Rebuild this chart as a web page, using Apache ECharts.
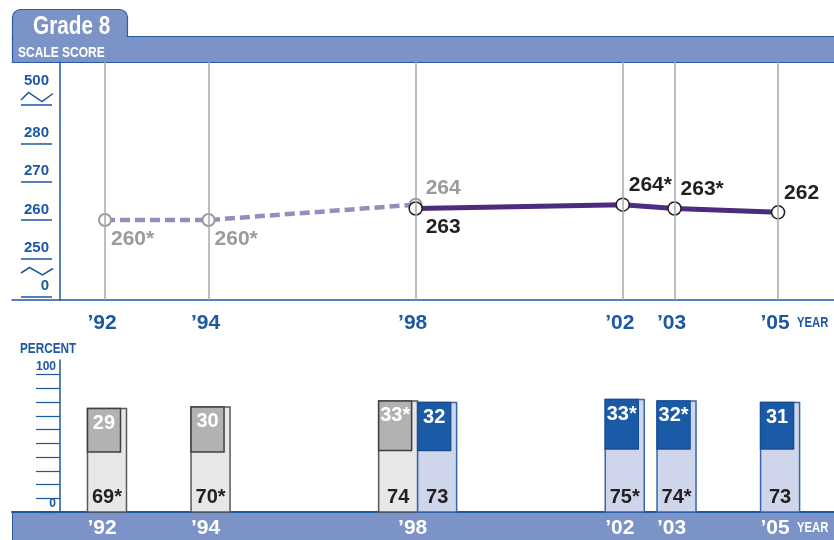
<!DOCTYPE html>
<html>
<head>
<meta charset="utf-8">
<script src="https://cdn.jsdelivr.net/npm/echarts@6/dist/echarts.min.js"></script>
<style>
html, body { margin: 0; padding: 0; background: #fff; }
#main { width: 834px; height: 540px; }
</style>
</head>
<body>
<div id="main"></div>
<script>
var years = [1992, 1994, 1998, 2002, 2003, 2005];
var yearLabels = ["\u201992", "\u201994", "\u201998", "\u201902", "\u201903", "\u201905"];

// accommodations not permitted
var npYears = [1992, 1994, 1998];
var npScore = [260, 260, 264];
var npScoreStar = [true, true, false];
var npBasic = [69, 70, 74];
var npBasicStar = [true, true, false];
var npProf = [29, 30, 33];
var npProfStar = [false, false, true];

// accommodations permitted
var pYears = [1998, 2002, 2003, 2005];
var pScore = [263, 264, 263, 262];
var pScoreStar = [false, true, true, false];
var pBasic = [73, 75, 74, 73];
var pBasicStar = [false, true, true, false];
var pProf = [32, 33, 32, 31];
var pProfStar = [false, true, true, false];

// broken scale axis: positions 240 and 290 stand for 0 and 500
var scoreTicks = [240, 250, 260, 270, 280, 290];
var scoreTickLabels = ['0', '250', '260', '270', '280', '500'];
var pctTicks = [0, 10, 20, 30, 40, 50, 60, 70, 80, 90, 100];
var pctLabelTicks = [0, 100];

var BLUE = '#1d58a4';
var BAND = '#7b93c6';
var SANS = "'Liberation Sans', Arial, sans-serif";

function star(v, s) { return v + (s ? '*' : ''); }

var chart = echarts.init(document.getElementById('main'));

function scoreData(yrs, vals, stars, below) {
    return yrs.map(function (y, i) {
        var down = below(i);
        return {
            value: [y, vals[i]],
            label: {
                formatter: star(vals[i], stars[i]),
                offset: [y === 1998 ? 10 : 6, down ? 19 : (y === 1998 && yrs === npYears ? -16 : -19.5)]
            }
        };
    });
}

function barSeries(yrs, basic, basicStar, prof, profStar, sc, side) {
    return {
        type: 'custom',
        xAxisIndex: 1,
        yAxisIndex: 3,
        clip: false,
        z: 3,
        data: yrs.map(function (y, i) { return [y, basic[i], prof[i]]; }),
        renderItem: function (params, api) {
            var i = params.dataIndex;
            var yr = api.value(0);
            var b = api.value(1);
            var p = api.value(2);
            var base = api.coord([yr, 0]);
            var top = api.coord([yr, b]);
            var pb = api.coord([yr, b - p]);
            var shared = npYears.indexOf(yr) >= 0 && pYears.indexOf(yr) >= 0;
            var w = 39, bw = 33;
            var cx = base[0] + 2 + (shared ? side * w / 2 : 0);
            var x0 = cx - w / 2;
            return {
                type: 'group',
                children: [
                    { type: 'rect', shape: { x: x0, y: top[1], width: w, height: base[1] - top[1] },
                      style: { fill: sc.light, stroke: sc.lightBorder, lineWidth: 1.5 } },
                    { type: 'rect', shape: { x: x0, y: top[1], width: bw, height: pb[1] - top[1] },
                      style: { fill: sc.dark, stroke: sc.darkBorder, lineWidth: 1.5 } },
                    { type: 'text', style: { text: star(p, profStar[i]), x: x0 + bw / 2, y: top[1] + 15,
                      fill: '#fff', font: 'bold 20px ' + SANS, align: 'center', verticalAlign: 'middle',
                      textAlign: 'center', textVerticalAlign: 'middle' } },
                    { type: 'text', style: { text: star(b, basicStar[i]), x: cx, y: base[1] - 15,
                      fill: '#231f20', font: 'bold 20px ' + SANS, align: 'center', verticalAlign: 'middle',
                      textAlign: 'center', textVerticalAlign: 'middle' } }
                ]
            };
        }
    };
}

function label(x, y, text, color, size, sx) {
    return { type: 'text', x: x, y: y, scaleX: sx, z: 5,
             style: { text: text, fill: color, font: 'bold ' + size + 'px ' + SANS,
                      verticalAlign: 'middle', textVerticalAlign: 'middle' } };
}

var option = {
    animation: false,
    grid: [
        { left: 12, right: 0, top: 62, height: 238 },
        { left: 12, right: 0, top: 360, height: 152 }
    ],
    xAxis: [
        {
            type: 'value', gridIndex: 0, min: 1990.204, max: 2006.08,
            axisLine: { lineStyle: { color: BLUE, width: 1.5 } },
            axisTick: { show: false },
            splitLine: { show: false },
            axisLabel: {
                customValues: years, margin: 13, padding: [0, 6, 0, 0],
                color: BLUE, fontFamily: SANS, fontWeight: 'bold', fontSize: 21,
                formatter: function (v) { return yearLabels[years.indexOf(v)]; }
            }
        },
        {
            type: 'value', gridIndex: 1, min: 1990.204, max: 2006.08,
            axisLine: { lineStyle: { color: BLUE, width: 2 } },
            axisTick: { show: false },
            splitLine: { show: false },
            axisLabel: {
                customValues: years, margin: 6, padding: [0, 6, 0, 0],
                color: '#fff', fontFamily: SANS, fontWeight: 'bold', fontSize: 21,
                formatter: function (v) { return yearLabels[years.indexOf(v)]; }
            }
        }
    ],
    yAxis: [
        {
            type: 'value', gridIndex: 0, position: 'left', min: 239.11, max: 301.25, offset: -48,
            axisLine: { show: true, lineStyle: { color: BLUE, width: 1.5 } },
            axisTick: { show: false }, axisLabel: { show: false }, splitLine: { show: false }
        },
        {
            type: 'value', gridIndex: 0, position: 'left', min: 239.11, max: 301.25, offset: -40,
            axisLine: { show: false },
            axisTick: { show: true, customValues: scoreTicks, length: 31, lineStyle: { color: BLUE, width: 1.5 } },
            axisLabel: {
                customValues: scoreTicks, margin: 3, verticalAlign: 'bottom', padding: [0, 0, 3, 0],
                color: BLUE, fontFamily: SANS, fontWeight: 'bold', fontSize: 15,
                formatter: function (v) {
                    var t = scoreTickLabels[scoreTicks.indexOf(v)];
                    // top label sits above the scale break
                    return v === scoreTicks[scoreTicks.length - 1] ? '{up|' + t + '}' : t;
                },
                rich: {
                    up: { color: BLUE, fontFamily: SANS, fontWeight: 'bold', fontSize: 15, padding: [0, 0, 14, 0] }
                }
            },
            splitLine: { show: false }
        },
        {
            type: 'value', gridIndex: 1, position: 'left', min: 0, max: 110.6, offset: -48,
            axisLine: { show: true, lineStyle: { color: BLUE, width: 1.5 } },
            axisTick: { show: true, customValues: pctTicks, length: 24, lineStyle: { color: BLUE, width: 1.2 } },
            axisLabel: {
                customValues: pctLabelTicks, margin: 4, verticalAlign: 'bottom', padding: [0, 0, 2, 0],
                color: BLUE, fontFamily: SANS, fontWeight: 'bold', fontSize: 12
            },
            splitLine: { show: false }
        },
        { type: 'value', gridIndex: 1, position: 'left', min: 0, max: 101.3, show: false }
    ],
    graphic: [
        { type: 'rect', z: -10, shape: { x: 12.5, y: 9.5, width: 115, height: 32, r: [8, 8, 0, 0] },
          style: { fill: BAND, stroke: '#2b5aa5', lineWidth: 1.2 } },
        { type: 'rect', z: -10, shape: { x: 12.5, y: 36.5, width: 830, height: 26 },
          style: { fill: BAND, stroke: '#2b5aa5', lineWidth: 1.2 } },
        { type: 'rect', z: -9, shape: { x: 13.5, y: 34, width: 113, height: 4 }, style: { fill: BAND } },
        label(33, 27, 'Grade 8', '#fff', 25, 0.83),
        label(18, 52.5, 'SCALE SCORE', '#fff', 15, 0.8),
        label(797, 322.5, 'YEAR', BLUE, 15, 0.75),
        label(20, 349, 'PERCENT', BLUE, 14, 0.84),
        { type: 'rect', z: -10, shape: { x: 12.5, y: 512, width: 830, height: 30 },
          style: { fill: BAND, stroke: '#2b5aa5', lineWidth: 1 } },
        label(797, 528, 'YEAR', '#fff', 15, 0.75),
        { type: 'polyline', shape: { points: [[21, 100], [28.5, 92.5], [42, 101.5], [53, 93.5]] },
          style: { stroke: BLUE, lineWidth: 1.5, fill: null } },
        { type: 'polyline', shape: { points: [[21, 273], [29.5, 267.5], [42.5, 275], [53, 268.5]] },
          style: { stroke: BLUE, lineWidth: 1.5, fill: null } }
    ],
    series: [
        {
            type: 'line', xAxisIndex: 0, yAxisIndex: 0, data: [], z: 1, silent: true,
            markLine: {
                silent: true, symbol: ['none', 'none'], label: { show: false },
                lineStyle: { color: '#a7a9ac', type: 'solid', width: 1.5 },
                data: years.map(function (y) { return { xAxis: y }; })
            }
        },
        {
            type: 'line', xAxisIndex: 0, yAxisIndex: 0, z: 3,
            data: scoreData(npYears, npScore, npScoreStar, function (i) { return i < npYears.length - 1; }),
            lineStyle: { color: '#9b8abb', width: 4.5, type: [10, 5] },
            symbol: 'circle', symbolSize: 12,
            itemStyle: { color: '#fff', borderColor: '#9a9b9d', borderWidth: 2 },
            label: { show: true, position: 'inside', align: 'left', verticalAlign: 'middle',
                     color: '#9a9b9d', fontFamily: SANS, fontWeight: 'bold', fontSize: 21 }
        },
        {
            type: 'line', xAxisIndex: 0, yAxisIndex: 0, z: 4,
            data: scoreData(pYears, pScore, pScoreStar, function (i) { return i === 0; }),
            lineStyle: { color: '#4d2b7e', width: 5 },
            symbol: 'circle', symbolSize: 13,
            itemStyle: { color: '#fff', borderColor: '#231f20', borderWidth: 1.5 },
            label: { show: true, position: 'inside', align: 'left', verticalAlign: 'middle',
                     color: '#231f20', fontFamily: SANS, fontWeight: 'bold', fontSize: 21 }
        },
        barSeries(npYears, npBasic, npBasicStar, npProf, npProfStar,
            { light: '#e6e7e8', lightBorder: '#58595b', dark: '#b1b2b4', darkBorder: '#3f4042' }, -1),
        barSeries(pYears, pBasic, pBasicStar, pProf, pProfStar,
            { light: '#cfd5ea', lightBorder: '#3566b0', dark: '#1b5aa6', darkBorder: '#1b4f94' }, 1)
    ]
};

chart.setOption(option);
</script>
</body>
</html>
